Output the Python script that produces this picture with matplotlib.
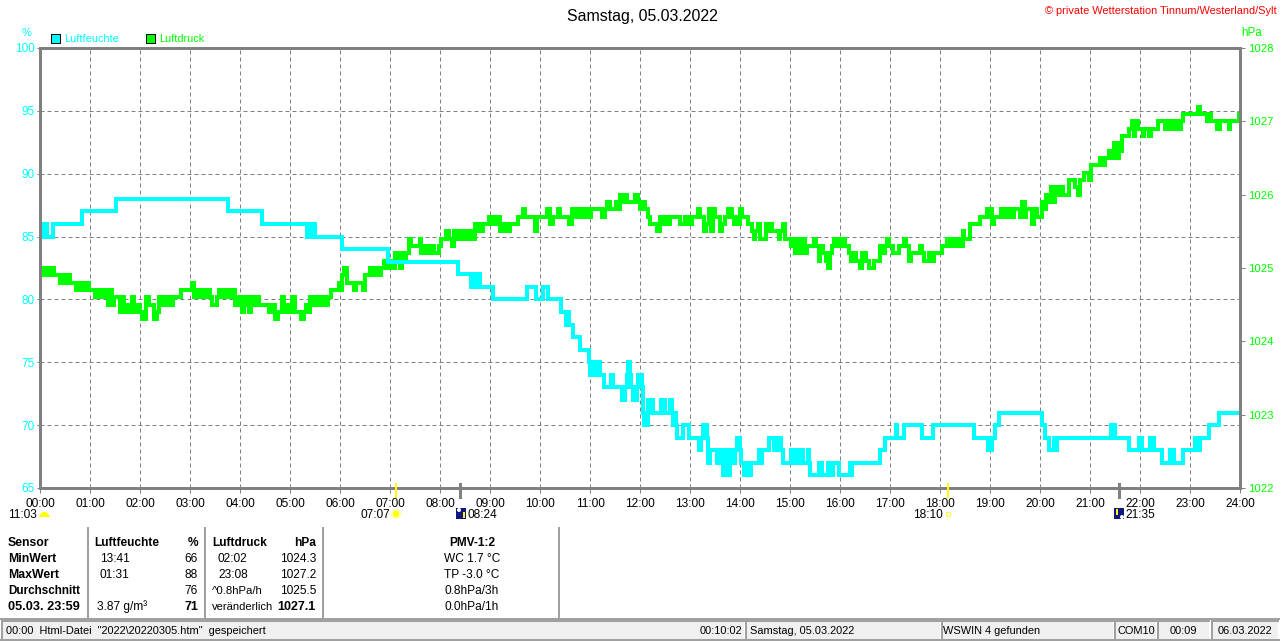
import numpy as np
import matplotlib
matplotlib.use("Agg")
import matplotlib.pyplot as plt
from matplotlib.patches import Rectangle, Circle, Wedge

plt.rcParams['font.family'] = ['Liberation Sans', 'DejaVu Sans']
plt.rcParams['text.antialiased'] = True

HOUR_LABELS = [f"{h:02d}:00" for h in range(25)]
HUM_TICKS = [65, 70, 75, 80, 85, 90, 95, 100]
PRES_TICKS = [1022, 1023, 1024, 1025, 1026, 1027, 1028]

# (hour, % relative humidity), held until the next entry
humidity = [
 (0,86),(.05,85),(.09,86),(.13,85),(.26,86),(.84,87),(1.52,88),(3.76,87),(4.44,86),(5.34,85),(5.38,86),(5.42,85),
 (5.46,86),(5.50,85),(6.04,84),(6.96,83),(8.36,82),(8.62,81),(8.66,82),(8.72,81),(8.76,82),(8.80,81),(9.05,80),
 (9.74,81),(9.91,80),(10.06,81),(10.16,80),(10.41,79),(10.52,78),(10.55,79),(10.57,78),(10.65,77),(10.79,76),
 (10.97,75),(11.0,74),(11.03,75),(11.07,74),(11.14,75),(11.19,74),(11.27,73),(11.41,74),(11.45,73),(11.63,72),
 (11.66,73),(11.68,72),(11.70,73),(11.73,74),(11.75,75),(11.79,74),(11.81,73),(11.85,72),(11.93,73),(11.95,74),
 (12.04,73),(12.05,71),(12.08,70),(12.15,71),(12.16,72),(12.19,71),(12.22,72),(12.25,71),(12.42,72),(12.50,71),
 (12.60,72),(12.64,71),(12.66,70),(12.69,71),(12.71,70),(12.73,69),(12.85,70),(12.97,69),(13.17,68),(13.21,69),
 (13.25,70),(13.33,69),(13.36,67),(13.40,68),(13.53,67),(13.58,68),(13.66,66),(13.70,67),(13.73,68),(13.75,66),
 (13.80,68),(13.84,67),(13.89,68),(13.93,69),(14.0,68),(14.02,67),(14.07,66),(14.10,67),(14.13,66),(14.17,67),
 (14.2,66),(14.22,67),(14.37,68),(14.40,67),(14.43,68),(14.57,69),(14.67,68),(14.69,69),(14.75,68),(14.77,69),
 (14.82,68),(14.85,67),(15.01,68),(15.04,67),(15.07,68),(15.13,67),(15.16,68),(15.2,67),(15.23,68),(15.26,67),
 (15.35,68),(15.37,67),(15.39,66),(15.57,67),(15.63,66),(15.75,67),(15.80,66),(15.85,67),(15.97,66),(16.19,67),
 (16.22,66),(16.23,67),(16.80,68),(16.90,69),(17.11,70),(17.14,69),(17.27,70),(17.63,69),(17.85,70),(18.67,69),
 (18.95,68),(19.03,69),(19.10,70),(19.18,71),(20.03,70),(20.10,69),(20.17,68),(20.27,69),(20.30,68),(20.33,69),
 (21.42,70),(21.49,69),(21.77,68),(21.97,69),(22.04,68),(22.2,69),(22.28,68),(22.43,67),(22.6,68),(22.68,67),
 (22.85,68),(23.1,69),(23.15,68),(23.2,69),(23.37,70),(23.57,71),(24,71),
]

# (hour, hPa), held until the next entry
pressure = [
 (0,1024.9),(.03,1025.0),(.07,1024.9),(.10,1025.0),(.13,1024.9),(.17,1025.0),(.2,1024.9),(.23,1025.0),(.27,1024.9),
 (.39,1024.8),(.41,1024.9),(.45,1024.8),(.48,1024.9),(.52,1024.8),(.55,1024.9),(.59,1024.8),(.71,1024.7),(.75,1024.8),
 (.83,1024.7),(.87,1024.8),(.9,1024.7),(.93,1024.8),(.98,1024.7),(1.10,1024.6),(1.13,1024.7),(1.18,1024.6),(1.21,1024.7),
 (1.27,1024.6),(1.31,1024.7),(1.35,1024.5),(1.39,1024.7),(1.43,1024.5),(1.47,1024.6),(1.6,1024.4),(1.64,1024.6),
 (1.68,1024.4),(1.73,1024.5),(1.79,1024.4),(1.84,1024.6),(1.88,1024.4),(1.93,1024.5),(1.99,1024.4),(2.03,1024.3),
 (2.11,1024.6),(2.17,1024.5),(2.28,1024.3),(2.33,1024.4),(2.37,1024.6),(2.41,1024.5),(2.45,1024.6),(2.49,1024.5),
 (2.55,1024.6),(2.6,1024.5),(2.65,1024.6),(2.81,1024.7),(3.03,1024.8),(3.07,1024.6),(3.15,1024.7),(3.2,1024.6),
 (3.25,1024.7),(3.3,1024.6),(3.35,1024.7),(3.4,1024.6),(3.43,1024.5),(3.53,1024.6),(3.57,1024.7),(3.61,1024.6),
 (3.67,1024.7),(3.71,1024.6),(3.76,1024.7),(3.8,1024.6),(3.85,1024.7),(3.9,1024.5),(3.95,1024.6),(3.99,1024.5),
 (4.04,1024.4),(4.08,1024.6),(4.13,1024.5),(4.17,1024.4),(4.21,1024.6),(4.27,1024.5),(4.32,1024.6),(4.37,1024.5),
 (4.57,1024.4),(4.65,1024.5),(4.7,1024.3),(4.75,1024.4),(4.83,1024.6),(4.87,1024.4),(4.92,1024.5),(4.97,1024.4),
 (5.04,1024.6),(5.09,1024.4),(5.21,1024.3),(5.27,1024.4),(5.31,1024.5),(5.35,1024.4),(5.39,1024.6),(5.48,1024.5),
 (5.53,1024.6),(5.59,1024.5),(5.64,1024.6),(5.69,1024.5),(5.75,1024.6),(5.81,1024.7),(5.97,1024.8),(6.0,1024.7),
 (6.04,1024.9),(6.08,1025.0),(6.13,1024.8),(6.27,1024.7),(6.31,1024.8),(6.45,1024.7),(6.5,1024.9),(6.59,1025.0),
 (6.61,1024.9),(6.67,1025.0),(6.7,1024.9),(6.73,1025.0),(6.77,1024.9),(6.81,1025.0),(6.87,1025.1),(6.93,1025.0),
 (7.0,1025.1),(7.05,1025.0),(7.1,1025.2),(7.15,1025.1),(7.19,1025.0),(7.23,1025.2),(7.28,1025.1),(7.32,1025.2),
 (7.37,1025.4),(7.41,1025.3),(7.59,1025.4),(7.62,1025.2),(7.67,1025.3),(7.7,1025.2),(7.75,1025.3),(7.79,1025.2),
 (7.83,1025.3),(7.88,1025.2),(7.97,1025.3),(8.03,1025.4),(8.11,1025.5),(8.17,1025.4),(8.23,1025.3),(8.29,1025.5),
 (8.35,1025.4),(8.4,1025.5),(8.45,1025.4),(8.52,1025.5),(8.57,1025.4),(8.61,1025.5),(8.65,1025.4),(8.7,1025.6),
 (8.75,1025.5),(8.79,1025.6),(8.83,1025.5),(8.87,1025.6),(8.97,1025.7),(9.0,1025.6),(9.03,1025.7),(9.08,1025.6),
 (9.12,1025.7),(9.19,1025.5),(9.23,1025.6),(9.27,1025.5),(9.31,1025.6),(9.35,1025.5),(9.4,1025.6),(9.55,1025.7),
 (9.65,1025.8),(9.7,1025.7),(9.85,1025.7),(9.89,1025.5),(9.93,1025.7),(10.13,1025.8),(10.2,1025.6),(10.25,1025.7),
 (10.35,1025.8),(10.4,1025.7),(10.57,1025.6),(10.63,1025.8),(10.67,1025.7),(10.72,1025.8),(10.76,1025.7),(10.81,1025.8),
 (10.87,1025.7),(10.91,1025.8),(10.97,1025.7),(11.01,1025.8),(11.23,1025.7),(11.29,1025.8),(11.33,1025.9),(11.39,1025.8),
 (11.52,1025.9),(11.57,1025.8),(11.6,1026.0),(11.65,1025.9),(11.7,1026.0),(11.73,1025.9),(11.9,1026.0),(11.95,1025.9),
 (12.0,1025.8),(12.05,1025.9),(12.09,1025.8),(12.15,1025.7),(12.2,1025.6),(12.33,1025.5),(12.39,1025.7),(12.41,1025.6),
 (12.47,1025.7),(12.5,1025.6),(12.53,1025.7),(12.57,1025.6),(12.6,1025.7),(12.79,1025.6),(12.9,1025.7),(12.93,1025.6),
 (12.97,1025.7),(13.0,1025.6),(13.03,1025.7),(13.15,1025.8),(13.19,1025.7),(13.28,1025.5),(13.32,1025.6),(13.37,1025.8),
 (13.41,1025.5),(13.45,1025.8),(13.49,1025.7),(13.59,1025.5),(13.63,1025.6),(13.7,1025.7),(13.75,1025.8),(13.83,1025.7),
 (13.88,1025.6),(13.91,1025.7),(13.95,1025.6),(14.0,1025.8),(14.03,1025.7),(14.15,1025.6),(14.23,1025.5),(14.27,1025.4),
 (14.3,1025.5),(14.35,1025.6),(14.39,1025.4),(14.52,1025.6),(14.57,1025.5),(14.6,1025.6),(14.63,1025.5),(14.77,1025.4),
 (14.8,1025.5),(14.85,1025.6),(14.9,1025.4),(15.01,1025.3),(15.07,1025.4),(15.1,1025.2),(15.15,1025.4),(15.2,1025.2),
 (15.25,1025.4),(15.3,1025.2),(15.33,1025.3),(15.47,1025.4),(15.52,1025.3),(15.57,1025.1),(15.6,1025.3),(15.65,1025.2),
 (15.71,1025.1),(15.75,1025.0),(15.8,1025.2),(15.83,1025.3),(15.87,1025.4),(15.93,1025.3),(15.97,1025.4),(16.0,1025.3),
 (16.05,1025.4),(16.1,1025.3),(16.17,1025.2),(16.21,1025.1),(16.27,1025.2),(16.32,1025.1),(16.39,1025.0),(16.43,1025.2),
 (16.52,1025.1),(16.57,1025.0),(16.68,1025.1),(16.79,1025.3),(16.83,1025.2),(16.89,1025.3),(16.93,1025.4),(16.99,1025.3),
 (17.05,1025.2),(17.17,1025.3),(17.28,1025.4),(17.33,1025.3),(17.37,1025.1),(17.41,1025.2),(17.59,1025.3),(17.63,1025.2),
 (17.67,1025.1),(17.77,1025.2),(17.81,1025.1),(17.87,1025.2),(18.03,1025.3),(18.13,1025.4),(18.19,1025.3),(18.23,1025.4),
 (18.3,1025.3),(18.37,1025.4),(18.4,1025.3),(18.45,1025.5),(18.48,1025.4),(18.59,1025.6),(18.79,1025.7),(18.93,1025.8),
 (18.97,1025.7),(19.0,1025.8),(19.04,1025.6),(19.08,1025.7),(19.21,1025.8),(19.25,1025.7),(19.3,1025.8),(19.35,1025.7),
 (19.39,1025.8),(19.43,1025.7),(19.47,1025.8),(19.6,1025.7),(19.65,1025.9),(19.69,1025.7),(19.72,1025.8),(19.83,1025.6),
 (19.87,1025.8),(19.93,1025.7),(20.03,1025.9),(20.08,1025.8),(20.12,1026.0),(20.17,1025.9),(20.21,1026.1),(20.25,1025.9),
 (20.3,1026.1),(20.35,1026.0),(20.4,1026.1),(20.45,1026.0),(20.57,1026.2),(20.7,1026.1),(20.75,1026.0),(20.79,1026.2),
 (20.87,1026.3),(20.97,1026.2),(21.01,1026.4),(21.2,1026.5),(21.25,1026.4),(21.3,1026.5),(21.37,1026.6),(21.43,1026.5),
 (21.48,1026.7),(21.53,1026.5),(21.57,1026.7),(21.6,1026.6),(21.63,1026.8),(21.78,1026.9),(21.83,1027.0),(21.87,1026.8),
 (21.9,1027.0),(21.95,1026.9),(22.05,1026.8),(22.08,1026.9),(22.17,1026.8),(22.21,1026.9),(22.35,1027.0),(22.5,1026.9),
 (22.55,1027.0),(22.59,1026.9),(22.63,1027.0),(22.68,1026.9),(22.72,1027.0),(22.77,1026.9),(22.81,1027.0),(22.85,1027.1),
 (23.15,1027.2),(23.19,1027.1),(23.33,1027.0),(23.37,1027.1),(23.41,1027.0),(23.53,1026.9),(23.59,1027.0),(23.77,1026.9),
 (23.8,1027.0),(23.98,1027.1),(24,1027.1),
]

sun_events = [7 + 7/60, 18 + 10/60]
moon_events = [8 + 24/60, 21 + 35/60]

GRAY = '#808080'
CYAN = '#00FFFF'
LIME = '#00FF00'
W, H = 1280, 641
px = 0.72  # one pixel in points at dpi 100

fig = plt.figure(figsize=(W/100, H/100), dpi=100, facecolor='white')
rect = [40/W, 1-488/H, 1200/W, 440/H]

bg = fig.add_axes(rect, zorder=1)
bg.set_xlim(0, 24); bg.set_ylim(65, 100)
bg.set_xticks(range(25)); bg.set_yticks(HUM_TICKS)
bg.grid(True, color=GRAY, ls=(0, (4, 3)), lw=1.0*px)
bg.tick_params(left=False, bottom=False, labelleft=False, labelbottom=False)
for s in bg.spines.values():
    s.set_visible(False)

ax2 = fig.add_axes(rect, zorder=2, frameon=False)
ht, hv = np.array(humidity).T
pt, pv = np.array(pressure).T
ax2.plot(pt, pv, color=LIME, lw=4*px, drawstyle='steps-post', solid_joinstyle='miter', antialiased=False)
ax2.set_xlim(0, 24); ax2.set_ylim(1022, 1028)
ax2.yaxis.tick_right()
ax2.set_yticks(PRES_TICKS)
ax2.tick_params(axis='y', labelsize=8.2, length=5*px, width=px, pad=3*px, color=GRAY, labelcolor=LIME)
ax2.set_xticks([])

ax = fig.add_axes(rect, zorder=3, frameon=True)
ax.patch.set_visible(False)
ax.plot(ht, hv, color=CYAN, lw=3.6*px, drawstyle='steps-post', solid_joinstyle='miter', antialiased=False)
ax.set_xlim(0, 24); ax.set_ylim(65, 100)
ax.set_xticks(range(25)); ax.set_xticklabels(HOUR_LABELS)
ax.set_yticks(HUM_TICKS)
ax.tick_params(axis='y', labelcolor=CYAN, color=GRAY, labelsize=8.5, length=3*px, width=px, pad=2*px)
ax.tick_params(axis='x', labelcolor='black', color=GRAY, labelsize=8.6, length=5*px, width=px, pad=5*px)
for s in ax.spines.values():
    s.set_color(GRAY); s.set_linewidth(3*px)

tr = ax.get_xaxis_transform()
for t in sun_events:
    ax.plot([t, t], [0.008, -0.02], color='#FFFF00', lw=2*px, transform=tr, clip_on=False, zorder=5, antialiased=False)
for t in moon_events:
    ax.plot([t, t], [0.008, -0.02], color=GRAY, lw=2.6*px, transform=tr, clip_on=False, zorder=5, antialiased=False)

ov = fig.add_axes([0, 0, 1, 1], zorder=10)
ov.set_xlim(0, W); ov.set_ylim(H, 0); ov.axis('off'); ov.patch.set_visible(False)

def T(x, y, s, ha='left', color='black', size=8.6, weight='normal'):
    ov.text(x, y + 1.5, s, ha=ha, va='center', color=color, fontsize=size, fontweight=weight)

T(642, 15, 'Samstag, 05.03.2022', ha='center', size=11.4)
T(1277, 9, '© private Wetterstation Tinnum/Westerland/Sylt', ha='right', color='#FF0000', size=7.9)
T(27, 31, '%', ha='center', color=CYAN, size=8.0)
T(1241, 31, 'hPa', color=LIME, size=8.4)

ov.add_patch(Rectangle((50.5, 33.5), 9, 9, fc=CYAN, ec='black', lw=1.0*px))
T(64, 37, 'Luftfeuchte', color=CYAN, size=7.9)
ov.add_patch(Rectangle((145.5, 33.5), 9, 9, fc=LIME, ec='black', lw=1.0*px))
T(159, 37, 'Luftdruck', color=LIME, size=7.8)

# sun and moon row
T(37, 513, '11:03', ha='right')
ov.add_patch(Wedge((44.5, 517), 5, 180, 360, fc='#FFFF00', ec='none'))
T(390, 513, '07:07', ha='right')
ov.add_patch(Circle((396, 514), 4, fc='#FFFF00', ec='#FFFFA0', lw=2*px))
ov.add_patch(Rectangle((456, 508), 10, 11, fc='#101880', ec='none'))
ov.add_patch(Circle((459, 510), 2, fc='white', ec='none'))
ov.add_patch(Rectangle((463, 512), 2, 6, fc='#FFFF00', ec='none'))
T(468, 513, '08:24')
T(943, 513, '18:10', ha='right')
ov.add_patch(Rectangle((946, 512), 4, 4, fc='white', ec='#FFFF40', lw=1.2*px))
ov.add_patch(Rectangle((1114, 508), 10, 11, fc='#101880', ec='none'))
ov.add_patch(Rectangle((1116, 509), 2, 6, fc='#FFFF00', ec='none'))
ov.add_patch(Circle((1122, 517), 2, fc='white', ec='none'))
T(1125, 513, '21:35')

# summary table
rows = [541, 557, 573, 590, 605]
for y, s, fs in zip(rows, ['Sensor', 'MinWert', 'MaxWert', 'Durchschnitt', '05.03. 23:59'],
                    [8.8, 8.8, 8.8, 8.4, 9.2]):
    T(8, y, s, weight='bold', size=fs)
T(94, rows[0], 'Luftfeuchte', weight='bold')
T(198, rows[0], '%', ha='right', weight='bold')
T(212, rows[0], 'Luftdruck', weight='bold')
T(316, rows[0], 'hPa', ha='right', weight='bold')
T(100, rows[1], '13:41'); T(100, rows[2], '01:31')
T(198, rows[1], '66', ha='right'); T(198, rows[2], '88', ha='right'); T(198, rows[3], '76', ha='right')
T(97, rows[4], '3.87 g/m³'); T(198, rows[4], '71', ha='right', weight='bold', size=9.0)
T(218, rows[1], '02:02'); T(218, rows[2], '23:08')
T(316, rows[1], '1024.3', ha='right'); T(316, rows[2], '1027.2', ha='right'); T(316, rows[3], '1025.5', ha='right')
T(212, rows[3], '^0.8hPa/h', size=8.2); T(212, rows[4], 'veränderlich', size=8.0)
T(316, rows[4], '1027.1', ha='right', weight='bold', size=9.0)
T(472, rows[0], 'PMV-1:2', ha='center', weight='bold')
for y, s in zip(rows[1:], ['WC 1.7 °C', 'TP -3.0 °C', '0.8hPa/3h', '0.0hPa/1h']):
    T(472, y, s, ha='center')
for x in [88, 205, 323, 559]:
    ov.plot([x, x], [528, 617], color='#A0A0A0', lw=1.5*px, antialiased=False)

# status bar
ov.plot([0, W], [619, 619], color='#A0A0A0', lw=1.5*px, antialiased=False)
ov.plot([0, W], [640, 640], color='#A0A0A0', lw=1.5*px, antialiased=False)
panels = [(2, 744), (746, 940), (942, 1113), (1115, 1156), (1158, 1209), (1212, 1278)]
for a, b in panels:
    ov.add_patch(Rectangle((a, 621), b-a, 18, fc='#F0F0F0', ec='none'))
    ov.plot([a, a, b], [639, 621, 621], color='#A0A0A0', lw=1.6*px, antialiased=False)
SB = 7.9
T(6, 629, '00:00  Html-Datei  "2022\\20220305.htm"  gespeichert', size=SB)
T(742, 629, '00:10:02', ha='right', size=SB)
T(750, 629, 'Samstag, 05.03.2022', size=SB)
T(943, 629, 'WSWIN 4 gefunden', size=SB)
T(1117, 629, 'COM10', size=SB)
T(1183, 629, '00:09', ha='center', size=SB)
T(1245, 629, '06.03.2022', ha='center', size=SB)

fig.savefig('out.png', dpi=100, facecolor='white')
